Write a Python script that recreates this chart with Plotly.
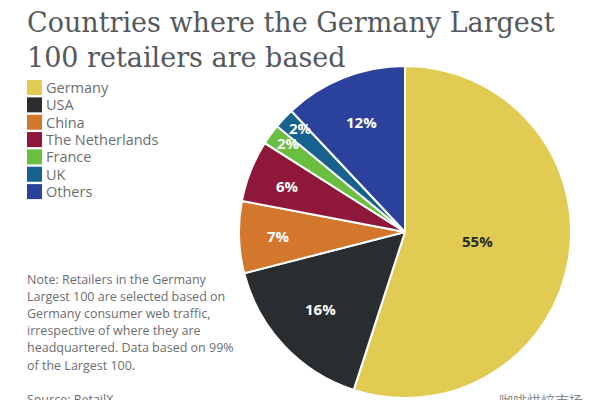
import math
import plotly.graph_objects as go

TITLE = "Countries where the Germany Largest<br>100 retailers are based"
categories = ["Germany", "USA", "China", "The Netherlands", "France", "UK", "Others"]
values = [55, 16, 7, 6, 2, 2, 12]
colors = ["#E1CB53", "#2A2D30", "#D2772C", "#8F1739", "#6ABF40", "#17618E", "#2B429C"]
label_colors = ["#2A2D30", "white", "white", "white", "white", "white", "white"]
label_radius = [0.44, 0.69, 0.76, 0.76, 0.885, 0.89, 0.71]
label_turn_deg = [-2, 0.7, 0, 0, 1.3, 1.8, 0]
note_lines = ["Note: Retailers in the Germany", "Largest 100 are selected based on",
              "Germany consumer web traffic,", "irrespective of where they are",
              "headquartered. Data based on 99%", "of the Largest 100.", "", "Source: RetailX"]
WATERMARK = "咖啡烘焙市场"
BODY = "Open Sans"
TEXT = "#6B6E71"
W, H = 600, 400
CX, CY, R = 405, 232, 166

fig = go.Figure(go.Pie(
    labels=categories, values=values, sort=False, direction="clockwise", rotation=0,
    marker=dict(colors=colors, line=dict(color="white", width=2)),
    textinfo="none", hoverinfo="label+percent",
    domain=dict(x=[(CX-R)/W, (CX+R)/W], y=[1-(CY+R)/H, 1-(CY-R)/H]),
))

def px(x): return x / W
def py(y): return 1 - y / H

ann = [dict(text=TITLE, x=px(25), y=py(5), xanchor="left", yanchor="top", align="left",
            font=dict(family="DejaVu Serif", size=27, color="#55585C"))]
shapes = []
for i, (c, col) in enumerate(zip(categories, colors)):
    yc = 87.5 + 17.35 * i
    shapes.append(dict(type="rect", xref="paper", yref="paper", x0=px(27), x1=px(42),
                       y0=py(yc+7.5), y1=py(yc-7.5), fillcolor=col, line=dict(width=0)))
    ann.append(dict(text=c, x=px(44), y=py(yc), xanchor="left", yanchor="middle",
                    font=dict(family=BODY, size=14.5, color=TEXT)))
for i, line in enumerate(note_lines):
    if line:
        ann.append(dict(text=line, x=px(25), y=py(279 + 17.2 * i), xanchor="left", yanchor="middle",
                        font=dict(family=BODY, size=12.5, color=TEXT)))
total = sum(values)
cum = 0
for v, fr, turn, lc in zip(values, label_radius, label_turn_deg, label_colors):
    a = 2 * math.pi * (cum + v / 2) / total + math.radians(turn)
    cum += v
    ann.append(dict(text=f"{v}%", x=px(CX + fr * R * math.sin(a)), y=py(CY - fr * R * math.cos(a)),
                    xanchor="center", yanchor="middle",
                    font=dict(family=BODY, size=15, color=lc, weight=700)))
ann.append(dict(text=WATERMARK, x=px(497), y=py(388), xanchor="left", yanchor="top",
                font=dict(family="Noto Sans CJK SC", size=14, color="#8A8A8A")))
for a in ann:
    a.update(xref="paper", yref="paper", showarrow=False)

fig.update_layout(width=W, height=H, margin=dict(l=0, r=0, t=0, b=0), paper_bgcolor="white",
                  showlegend=False, annotations=ann, shapes=shapes)
fig.write_html("out.html", config={"displayModeBar": False},
               post_script="document.body.style.margin='0';")
